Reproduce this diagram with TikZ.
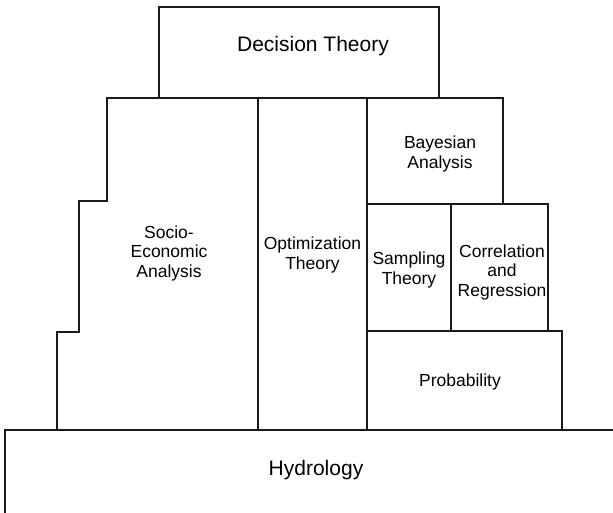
\documentclass[tikz,border=0pt]{standalone}
\usepackage{fontspec}
\setmainfont{Liberation Sans}
\begin{document}
\begin{tikzpicture}[x=1pt,y=-1pt,
  block/.style={draw=black!90,line width=1.5pt,line join=miter},
  biglabel/.style={font=\fontsize{21}{25}\selectfont,align=center,inner sep=0pt},
  smalllabel/.style={font=\fontsize{17.5}{19.5}\selectfont,align=center,inner sep=0pt}]
  \useasboundingbox (0,0) rectangle (613,512);
  \clip (0,0) rectangle (613,512);
  % base layer, running past the page edges
  \draw[block] (5,530) -- (5,430) -- (640,430);
  % top layer
  \draw[block] (159,98) rectangle (439,7);
  % stepped socio-economic column
  \draw[block] (258,430) -- (57,430) -- (57,332) -- (79,332) -- (79,201)
      -- (107,201) -- (107,98) -- (258,98) -- cycle;
  \draw[block] (258,98) rectangle (367,430);
  \draw[block] (367,98) rectangle (503,204);
  \draw[block] (367,204) rectangle (451,331);
  \draw[block] (451,204) rectangle (548,331);
  \draw[block] (367,331) rectangle (562,430);
  % labels
  \node[biglabel] (dec) at (313,46) {Decision Theory};
  \node[smalllabel] (soc) at (169,253) {Socio-\\Economic\\Analysis};
  \node[smalllabel] (opt) at (312.5,255) {Optimization\\Theory};
  \node[smalllabel] (bay) at (440,154) {Bayesian\\Analysis};
  \node[smalllabel] (sam) at (409,270) {Sampling\\Theory};
  \node[smalllabel] (cor) at (502,272) {Correlation\\and\\Regression};
  \node[smalllabel] (pro) at (460,382) {Probability};
  \node[biglabel] (hyd) at (316,470) {Hydrology};
\end{tikzpicture}
\end{document}
